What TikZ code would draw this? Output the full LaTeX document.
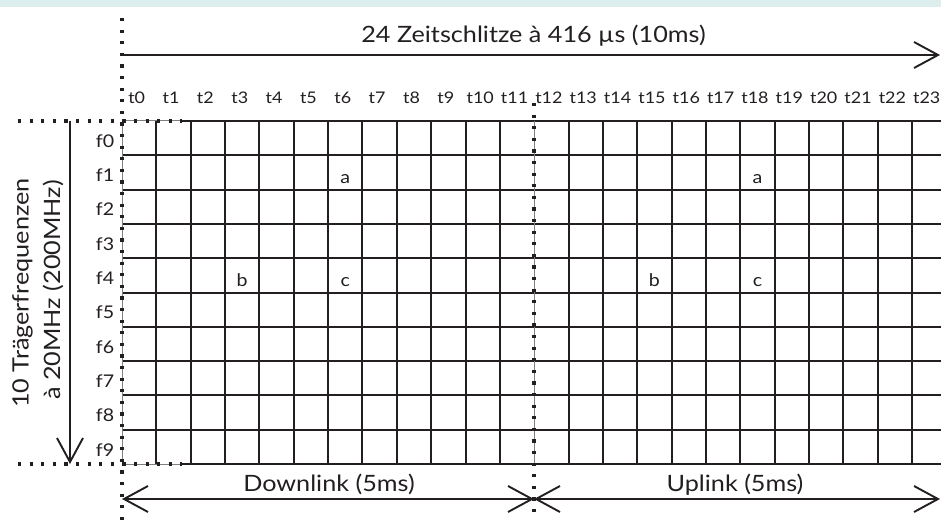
\documentclass[tikz,border=0pt]{standalone}
\usepackage{fontspec}
\setmainfont{Lato}[FakeStretch=1.12]
\usetikzlibrary{positioning,arrows.meta}
\definecolor{bandteal}{RGB}{220,238,237}
\definecolor{inkline}{RGB}{35,31,32}

\begin{document}
\begin{tikzpicture}[x=1pt, y=-1pt,
   barbtip/.tip={Straight Barb[length=24pt, width=26pt, line width=1.9pt]},
   gridline/.style={line width=2.6pt, inkline},
   thingrid/.style={line width=1pt, black!50},
   dotline/.style={line width=3.2pt, inkline, dash pattern=on 3.2pt off 8.4pt},
   axisarrow/.style={line width=2pt, inkline, -barbtip},
   linkarrow/.style={line width=2pt, inkline, barbtip-barbtip},
   bigtext/.style={font=\fontsize{22.5}{22.5}\selectfont, text=inkline, anchor=base, inner sep=0pt},
   sidetext/.style={font=\fontsize{22.5}{22.5}\selectfont, text=inkline, anchor=base, inner sep=0pt, rotate=90},
   smalltext/.style={font=\fontsize{16}{16}\selectfont, text=inkline, anchor=base, inner sep=0pt},
   celltext/.style={font=\fontsize{17.5}{17.5}\selectfont, text=inkline, anchor=base, inner sep=0pt}
]
\useasboundingbox (0,0) rectangle (941,521);
\fill[bandteal] (0,0) rectangle (941,7.5);

% Grid
\begin{scope}
\clip (0,0) rectangle (941,521);
\foreach \i in {1,...,9}
  \draw[gridline] (122,{round(121+34.3*\i)}) -- (941,{round(121+34.3*\i)});
\draw[thingrid] (122,121) -- (182,121);
\draw[thingrid] (122,464) -- (182,464);
\draw[gridline] (182,121) -- (941,121);
\draw[gridline] (182,464) -- (941,464);
\foreach \j in {1,...,11,13,14,...,23}
  \draw[gridline] ({round(122+34.35*\j)},121) -- ({round(122+34.35*\j)},464);
\draw[thingrid] (122,121) -- (122,464);
\draw[thingrid] (534,121) -- (534,464);
\end{scope}

% Dotted borders
\draw[dotline] (122,18) -- (122,521);
\draw[dotline] (534,103) -- (534,521);
\draw[dotline] (18,121) -- (182,121);
\draw[dotline] (18,464) -- (182,464);

% Nodes
\node[bigtext] (zeit) at (533.5,43) {24 Zeitschlitze à 416 µs (10ms)};
\foreach \j in {0,...,23}
  \node[smalltext] (t\j) at ({122+34.35*(\j+0.5)-2.5},104) {t\j};
\foreach \i in {0,...,9}
  \node[celltext] (f\i) at (105,{121+34.3*(\i+1)-8}) {f\i};
\node[sidetext] (traeger) at (28.5,293) {10 Trägerfrequenzen};
\node[sidetext] (bandbr) at (60,290) {à 20MHz (200MHz)};

\node[celltext] (a1) at ({122+34.35*6.5},{121+34.3*2-6}) {a};
\node[celltext] (b1) at ({122+34.35*3.5},{121+34.3*5-6}) {b};
\node[celltext] (c1) at ({122+34.35*6.5},{121+34.3*5-6}) {c};
\node[celltext] (a2) at ({122+34.35*18.5},{121+34.3*2-6}) {a};
\node[celltext] (b2) at ({122+34.35*15.5},{121+34.3*5-6}) {b};
\node[celltext] (c2) at ({122+34.35*18.5},{121+34.3*5-6}) {c};

\node[bigtext] (down) at (329,491.7) {Downlink (5ms)};
\node[bigtext] (up) at (735,491.7) {Uplink (5ms)};

% Arrows
\coordinate (zeitL) at (122,55);
\coordinate (zeitR) at (940,55);
\coordinate (freqT) at (70,121);
\coordinate (freqB) at (70,464);
\coordinate (linkL) at (122,499);
\coordinate (linkM) at (534,499);
\coordinate (linkR) at (940,499);
\draw[axisarrow] (zeitL) -- (zeitR);
\draw[axisarrow] (freqT) -- (freqB);
\draw[linkarrow] (linkL) -- (linkM);
\draw[linkarrow] (linkM) -- (linkR);
\end{tikzpicture}
\end{document}
